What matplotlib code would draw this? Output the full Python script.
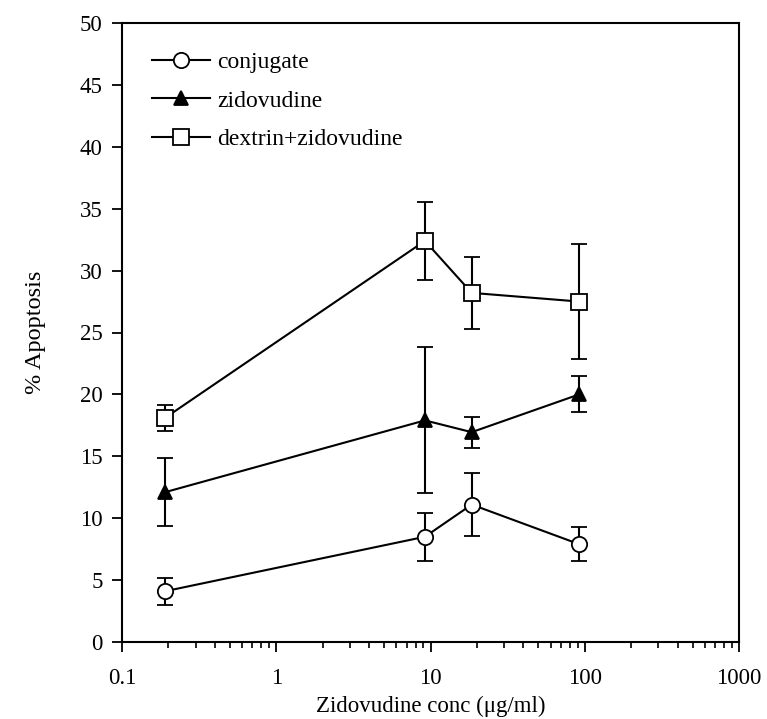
import matplotlib.pyplot as plt
from matplotlib.ticker import LogLocator, NullFormatter

plt.rcParams['font.family'] = ['Liberation Serif', 'DejaVu Serif']

# Data
conc = [0.19, 9.2, 18.5, 92]
conjugate = [4.1, 8.5, 11.1, 7.9]
conjugate_err = [1.1, 1.95, 2.55, 1.35]
zidovudine = [12.1, 17.9, 16.95, 20.0]
zidovudine_err = [2.75, 5.9, 1.25, 1.45]
dextrin_zid = [18.1, 32.4, 28.2, 27.5]
dextrin_zid_err = [1.05, 3.15, 2.9, 4.65]

series = [
    ('conjugate', conjugate, conjugate_err, 'o', 'white'),
    ('zidovudine', zidovudine, zidovudine_err, '^', 'black'),
    ('dextrin+zidovudine', dextrin_zid, dextrin_zid_err, 's', 'white'),
]

fig = plt.figure(figsize=(7.67, 7.19), dpi=100)
ax = fig.add_axes([122 / 767, 1 - 642 / 719, (739 - 122) / 767, (642 - 23) / 719])

for label, vals, errs, mk, fc in series:
    ax.errorbar(conc, vals, yerr=errs, color='black', lw=1.5,
                marker=mk, markersize=11 if mk != '^' else 10.5,
                markerfacecolor=fc, markeredgecolor='black', markeredgewidth=1.3,
                capsize=6, capthick=1.5, elinewidth=1.5, label=label)

ax.set_xscale('log')
ax.set_xlim(0.1, 1000)
ax.set_ylim(0, 50)
ax.set_yticks(range(0, 51, 5))
ax.set_xticks([0.1, 1, 10, 100, 1000])
ax.set_xticklabels(['0.1', '1', '10', '100', '1000'])
ax.xaxis.set_minor_locator(LogLocator(base=10, subs=range(2, 10)))
ax.xaxis.set_minor_formatter(NullFormatter())

ax.tick_params(axis='both', which='major', direction='out', length=7, width=1.3,
               labelsize=16.5, top=False, right=False)
ax.tick_params(axis='x', which='minor', direction='out', length=4, width=1.2, top=False)
ax.tick_params(axis='x', which='major', pad=12)
ax.tick_params(axis='y', which='major', pad=7)
for sp in ax.spines.values():
    sp.set_linewidth(1.5)

ax.set_xlabel('Zidovudine conc (\u03bcg/ml)', fontsize=16.5, labelpad=4.5)
ax.set_ylabel('% Apoptosis', fontsize=17.5, labelpad=24)

handles, labels = ax.get_legend_handles_labels()
handles = [h[0] for h in handles]
leg = ax.legend(handles, labels, loc='upper left', bbox_to_anchor=(0.049, 0.954),
                frameon=False, fontsize=17, handlelength=2.45, handletextpad=0.3,
                labelspacing=0.72, borderpad=0, borderaxespad=0)

fig.savefig('out.png', dpi=100, facecolor='white')
